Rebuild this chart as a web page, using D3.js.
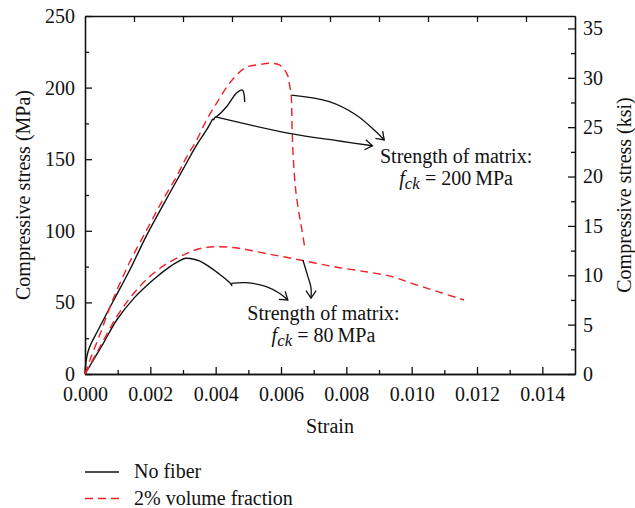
<!DOCTYPE html>
<html>
<head>
<meta charset="utf-8">
<script src="https://cdn.jsdelivr.net/npm/d3@7"></script>
<style>
  body { margin: 0; background: #fff; }
  svg text { font-family: 'Liberation Serif', 'DejaVu Serif', serif; fill: #111; }
  .axis path, .axis line { stroke: #111; stroke-width: 1.3; }
</style>
</head>
<body>
<div id="chart"></div>
<script>

// strain (-) , stress (MPa)
var noFiber200 = [[0,0],[0.00003,8.4],[0.00009,15.4],[0.00018,21],[0.00037,29.3],[0.00085,50.3],
  [0.00137,72.6],[0.00189,97],[0.00244,120],[0.00299,142.5],[0.00342,160],[0.00372,170.4],
  [0.00385,175.6],[0.00391,178],[0.00394,177.6],[0.00397,179],[0.00403,179.8],[0.00434,186.8],
  [0.00464,196.2],[0.00482,198.3],[0.00489,190]];
var fiber200 = [[0,0],[0.00015,9.8],[0.00046,27.9],[0.00085,51.7],[0.00137,78.2],[0.00189,100.6],
  [0.00238,121.5],[0.0028,137.8],[0.00311,151.5],[0.00342,163.4],[0.00372,177.4],[0.00403,189.2],
  [0.00434,200.4],[0.00464,208.8],[0.00495,214.4],[0.00534,216.1],[0.00565,217],[0.00595,215.8],
  [0.00611,212.3],[0.00621,208.1],[0.00626,202],[0.00631,194.8],[0.00634,170.4],[0.00638,149.4],
  [0.00646,126.4],[0.00656,111],[0.00663,102],[0.00673,88]];
var noFiber80 = [[0,0],[0.00056,21.4],[0.00097,37.7],[0.0015,53],[0.0021,66],[0.0026,75],
  [0.00285,78.5],[0.00308,80.8],[0.0035,79],[0.0038,75],[0.0041,70],[0.0044,64.5],[0.00448,62.5],[0.0045,61.5]];
var fiber80 = [[0,0],[0.00046,19],[0.00097,40],[0.00148,56],[0.00198,68],[0.0025,77],[0.0031,84],
  [0.0035,87.5],[0.004,88.9],[0.0047,87.8],[0.0055,84.3],[0.0065,80],[0.0076,75],[0.0086,71.4],
  [0.0094,68],[0.01,63.3],[0.0108,57.5],[0.0116,51.7]];

// annotation arrows, same units
var arrowRed200 = [[0.00632,194.8],[0.00748,190.2],[0.0083,180.9],[0.00891,169.2],[0.00916,163.4]];
var arrowBlack200 = [[0.004,179.5],[0.00626,168],[0.00779,162.7],[0.0088,159.4]];
var arrowBlack80 = [[0.00448,63.3],[0.00494,63.8],[0.00555,61],[0.00595,56.4],[0.00621,51.7]];
var arrowRed80 = [[0.00667,79.6],[0.00681,69],[0.00692,60],[0.00692,53]];

var xTicks = [0, 0.002, 0.004, 0.006, 0.008, 0.010, 0.012, 0.014];
var yTicks = [0, 50, 100, 150, 200, 250];
var ksiTicks = [0, 5, 10, 15, 20, 25, 30, 35];
var legendNames = ["No fiber", "2% volume fraction"];

var W = 635, H = 508;
var margin = {top: 16, right: 60, bottom: 134, left: 85};
var red = "#ef1f27";
var serif = "'Liberation Serif', 'DejaVu Serif', serif";

var svg = d3.select("#chart").append("svg").attr("width", W).attr("height", H)
   .attr("font-family", serif);

var x = d3.scaleLinear().domain([0, 0.015]).range([margin.left, W - margin.right]);
var y = d3.scaleLinear().domain([0, 250]).range([H - margin.bottom, margin.top]);
var yKsi = d3.scaleLinear().domain([0, 250 / 6.894757]).range([H - margin.bottom, margin.top]);
var topDiv = d3.scaleLinear().domain([0, 10]).range([margin.left, W - margin.right]);

var x0 = margin.left, x1 = W - margin.right, y0 = H - margin.bottom, y1 = margin.top;

// minor ticks first
svg.append("g").attr("class", "axis").attr("transform", "translate(0," + y0 + ")")
   .call(d3.axisBottom(x).tickValues(d3.range(1, 15, 2).map(function(d) { return d / 1000; }))
          .tickSize(-4).tickSizeOuter(0).tickFormat(""));
svg.append("g").attr("class", "axis").attr("transform", "translate(" + x0 + ",0)")
   .call(d3.axisLeft(y).tickValues([25, 75, 125, 175, 225]).tickSize(-4).tickSizeOuter(0).tickFormat(""));
svg.append("g").attr("class", "axis").attr("transform", "translate(" + x1 + ",0)")
   .call(d3.axisRight(yKsi).tickValues([2.5, 7.5, 12.5, 17.5, 22.5, 27.5, 32.5]).tickSize(-4).tickSizeOuter(0).tickFormat(""));

svg.append("g").attr("class", "axis").attr("transform", "translate(0," + y0 + ")")
   .call(d3.axisBottom(x).tickValues(xTicks).tickSize(-7).tickSizeOuter(0).tickPadding(13)
          .tickFormat(d3.format(".3f")));
svg.append("g").attr("class", "axis").attr("transform", "translate(" + x0 + ",0)")
   .call(d3.axisLeft(y).tickValues(yTicks).tickSize(-7).tickSizeOuter(0).tickPadding(10));
svg.append("g").attr("class", "axis").attr("transform", "translate(" + x1 + ",0)")
   .call(d3.axisRight(yKsi).tickValues(ksiTicks).tickSize(-7).tickSizeOuter(0).tickPadding(8));
svg.append("g").attr("class", "axis").attr("transform", "translate(0," + y1 + ")")
   .call(d3.axisTop(topDiv).tickValues(d3.range(1, 10)).tickSize(-6).tickSizeOuter(0).tickFormat(""));

svg.selectAll(".axis").attr("font-family", serif).attr("font-size", 20);
svg.selectAll(".axis text").attr("fill", "#111");

// axis titles
svg.append("text").attr("x", (x0 + x1) / 2).attr("y", 433)
   .attr("text-anchor", "middle").attr("font-size", 20).text("Strain");
svg.append("text").attr("transform", "translate(30," + ((y0 + y1) / 2) + ") rotate(-90)")
   .attr("text-anchor", "middle").attr("font-size", 20).text("Compressive stress (MPa)");
svg.append("text").attr("transform", "translate(631," + ((y0 + y1) / 2) + ") rotate(-90)")
   .attr("text-anchor", "middle").attr("font-size", 20).text("Compressive stress (ksi)");

// curves
var smooth = d3.line().x(function(d) { return x(d[0]); }).y(function(d) { return y(d[1]); })
   .curve(d3.curveCatmullRom.alpha(0.5));

[noFiber200, noFiber80].forEach(function(s) {
  svg.append("path").datum(s).attr("d", smooth)
     .attr("fill", "none").attr("stroke", "#111").attr("stroke-width", 1.4).attr("stroke-linejoin", "round");
});
[fiber200, fiber80].forEach(function(s) {
  svg.append("path").datum(s).attr("d", smooth)
     .attr("fill", "none").attr("stroke", red).attr("stroke-width", 1.4).attr("stroke-dasharray", "8,5");
});

// arrows
function drawArrow(pts) {
  svg.append("path").datum(pts).attr("d", smooth)
     .attr("fill", "none").attr("stroke", "#111").attr("stroke-width", 1.3);
  var a = pts[pts.length - 2], b = pts[pts.length - 1];
  var ang = Math.atan2(y(b[1]) - y(a[1]), x(b[0]) - x(a[0]));
  var tx = x(b[0]), ty = y(b[1]), len = 9;
  var head = [ang + Math.PI - 0.6, ang + Math.PI + 0.6].map(function(t) {
    return [tx + len * Math.cos(t), ty + len * Math.sin(t)];
  });
  svg.append("path")
     .attr("d", "M" + head[0] + "L" + tx + "," + ty + "L" + head[1])
     .attr("fill", "none").attr("stroke", "#111").attr("stroke-width", 1.3);
}
[arrowRed200, arrowBlack200, arrowBlack80, arrowRed80].forEach(drawArrow);

// annotation text
function label(cx, cy, val) {
  svg.append("text").attr("x", x(cx)).attr("y", y(cy)).attr("text-anchor", "middle")
     .attr("font-size", 20).text("Strength of matrix:");
  var t = svg.append("text").attr("x", x(cx)).attr("y", y(cy) + 22).attr("text-anchor", "middle")
     .attr("font-size", 20);
  t.append("tspan").attr("font-style", "italic").text("f");
  t.append("tspan").attr("font-style", "italic").attr("font-size", 17).attr("dy", 4).text("ck");
  t.append("tspan").attr("dy", -4).text(" = " + val + "\u2009MPa");
}
label(0.01136, 147.3, 200);
label(0.0073, 37.7, 80);

// legend
var leg = svg.append("g");
legendNames.forEach(function(n, i) {
  var ly = 472 + i * 26.5;
  leg.append("line").attr("x1", 85).attr("x2", 119).attr("y1", ly).attr("y2", ly)
     .attr("stroke", i == 0 ? "#111" : red).attr("stroke-width", 1.4)
     .attr("stroke-dasharray", i == 0 ? null : "8,5");
  leg.append("text").attr("x", 134).attr("y", ly + 6).attr("font-size", 20).text(n);
});

</script>
</body>
</html>
